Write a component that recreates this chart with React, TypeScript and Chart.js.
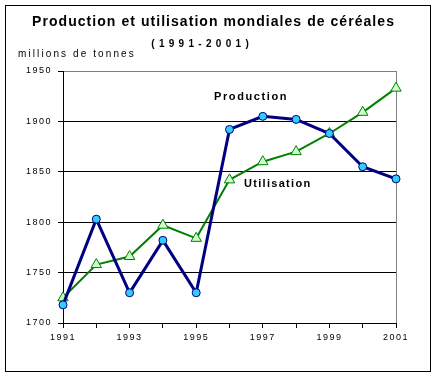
import React, { useEffect, useRef } from "react";
import { Chart, registerables } from "chart.js";

Chart.register(...registerables);

const years = ["1991", "1992", "1993", "1994", "1995", "1996", "1997", "1998", "1999", "2000", "2001"];
const production = [1718, 1803, 1730, 1782, 1730, 1892, 1905, 1902, 1888, 1855, 1843];
const utilisation = [1725, 1758, 1766, 1797, 1784, 1842, 1860, 1870, 1888, 1909, 1933];
const yTicks = [1700, 1750, 1800, 1850, 1900, 1950];

const titleText = "Production et utilisation mondiales de céréales";
const subtitleText = "(1991-2001)";
const unitText = "millions de tonnes";
const productionLabel = "Production";
const utilisationLabel = "Utilisation";

const FONT = "'Liberation Sans', Arial, sans-serif";

function drawSpaced(ctx: CanvasRenderingContext2D, text: string, x: number, y: number, font: string, spacing: number, align: "left" | "center") {
  ctx.save();
  ctx.font = font;
  (ctx as any).letterSpacing = spacing + "px";
  ctx.fillStyle = "#000";
  ctx.textBaseline = "middle";
  ctx.textAlign = "left";
  const w = ctx.measureText(text).width - spacing;
  const sx = align === "center" ? x - w / 2 : x;
  ctx.fillText(text, sx, y);
  ctx.restore();
}

const decorPlugin = {
  id: "decor",
  beforeDraw(chart: any) {
    const ctx = chart.ctx as CanvasRenderingContext2D;
    ctx.save();
    ctx.fillStyle = "#fff";
    ctx.fillRect(0, 0, chart.width, chart.height);
    ctx.restore();
    (ctx as any).letterSpacing = "1.5px";
  },
  beforeDatasetsDraw(chart: any) {
    (chart.ctx as any).letterSpacing = "0px";
  },
  afterDraw(chart: any) {
    const ctx = chart.ctx as CanvasRenderingContext2D;
    (ctx as any).letterSpacing = "0px";
    ctx.save();
    ctx.strokeStyle = "#000";
    ctx.lineWidth = 1;
    ctx.strokeRect(5.5, 5.5, 425, 366);
    ctx.restore();
    drawSpaced(ctx, titleText, 213, 22, "bold 14px " + FONT, 1.05, "center");
    drawSpaced(ctx, subtitleText, 200, 44, "bold 10px " + FONT, 4.3, "center");
    drawSpaced(ctx, unitText, 18, 54, "10px " + FONT, 2.1, "left");
    drawSpaced(ctx, productionLabel, 214, 97, "bold 11px " + FONT, 1.6, "left");
    drawSpaced(ctx, utilisationLabel, 244, 184, "bold 11px " + FONT, 1.3, "left");
  },
};

export default function App() {
  const ref = useRef<HTMLCanvasElement>(null);
  useEffect(() => {
    if (!ref.current) return;
    const chart = new Chart(ref.current, {
      type: "line",
      data: {
        labels: years,
        datasets: [
          {
            label: "Production",
            data: production,
            borderColor: "#000080",
            borderWidth: 3,
            pointStyle: "circle",
            pointRadius: 4,
            pointBackgroundColor: "#33CCFF",
            pointBorderColor: "#000080",
            pointBorderWidth: 1,
            tension: 0,
            clip: false as any,
          },
          {
            label: "Utilisation",
            data: utilisation,
            borderColor: "#008000",
            borderWidth: 2,
            pointStyle: "triangle",
            pointRadius: 6,
            pointBackgroundColor: "#CCFFCC",
            pointBorderColor: "#008000",
            pointBorderWidth: 1,
            tension: 0,
            clip: false as any,
          },
        ],
      },
      options: {
        responsive: false,
        animation: false,
        layout: { padding: { left: 0, right: 41, top: 71, bottom: 0 } },
        plugins: { legend: { display: false }, tooltip: { enabled: false }, title: { display: false } },
        scales: {
          x: {
            type: "category",
            offset: false,
            grid: {
              drawOnChartArea: true,
              color: (c: any) => (c.index === years.length - 1 ? "#808080" : "rgba(0,0,0,0)"),
              tickColor: "#000",
              tickLength: 5,
              lineWidth: 1,
            },
            border: { color: "#000", width: 1 },
            ticks: {
              autoSkip: false,
              maxRotation: 0,
              color: "#000",
              font: { family: FONT, size: 9 },
              padding: 4,
              callback: (_v: any, i: number) => (i % 2 === 0 ? years[i] : ""),
            },
            afterFit: (s: any) => {
              s.height = 54;
            },
          },
          y: {
            min: yTicks[0],
            max: yTicks[yTicks.length - 1],
            afterBuildTicks: (s: any) => {
              s.ticks = yTicks.map((v) => ({ value: v }));
            },
            grid: {
              color: (c: any) => (c.tick && c.tick.value === 1950 ? "#808080" : "#000"),
              tickColor: "#000",
              tickLength: 5,
              lineWidth: 1,
            },
            border: { color: "#000", width: 1 },
            ticks: {
              color: "#000",
              font: { family: FONT, size: 9 },
              padding: 6,
              callback: (v: any) => String(v),
            },
            afterFit: (s: any) => {
              s.width = 63;
            },
          },
        },
      },
      plugins: [decorPlugin],
    });
    return () => chart.destroy();
  }, []);
  return (
    <div style={{ position: "absolute", left: 0, top: 0, width: 437, height: 377 }}>
      <canvas ref={ref} width={437} height={377} style={{ width: 437, height: 377, display: "block" }} />
    </div>
  );
}
